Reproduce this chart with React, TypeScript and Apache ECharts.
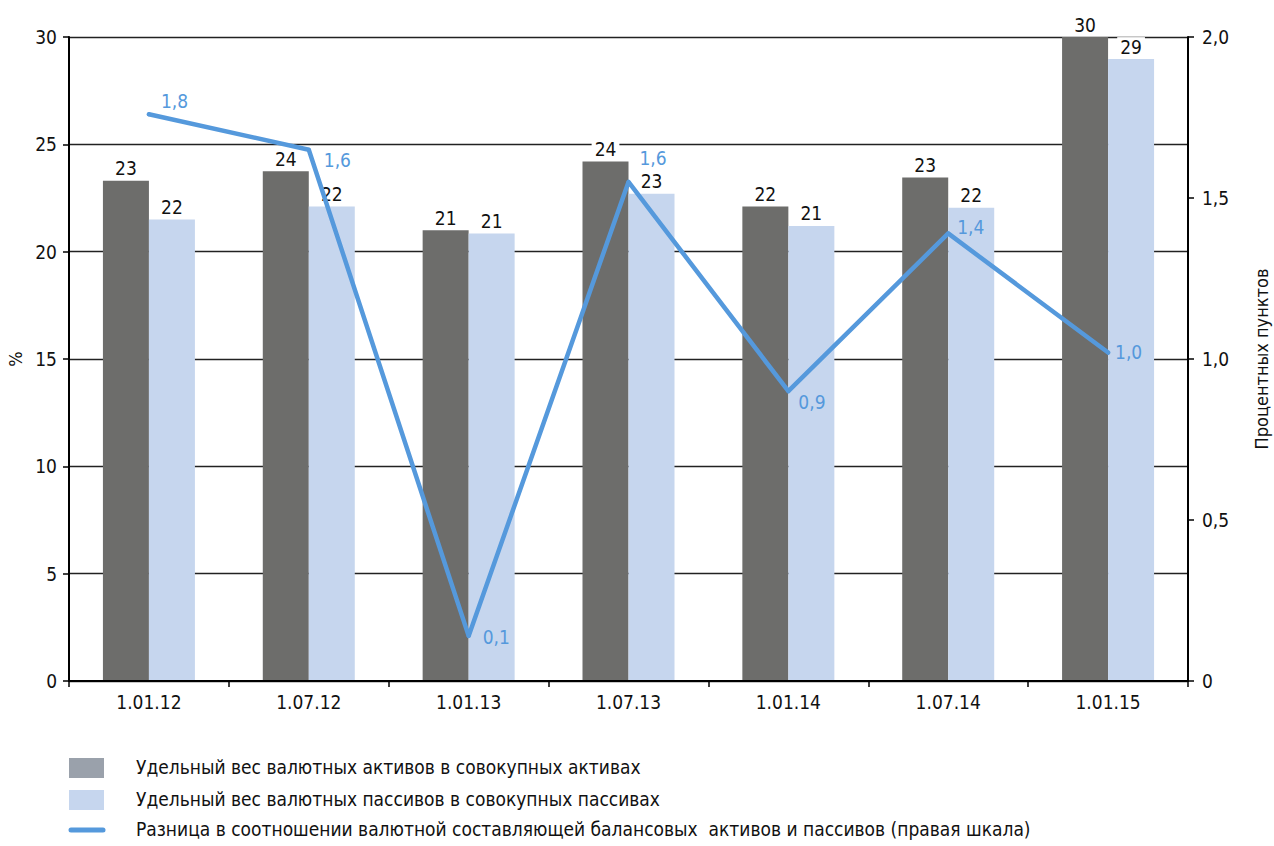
import React, { useEffect, useRef } from "react";
import * as echarts from "echarts";

// Reporting dates
const categories = ["1.01.12", "1.07.12", "1.01.13", "1.07.13", "1.01.14", "1.07.14", "1.01.15"];
// Share of foreign-currency assets in total assets, %
const assetsShare = [23.3, 23.75, 21.0, 24.2, 22.1, 23.45, 30.0];
// Share of foreign-currency liabilities in total liabilities, %
const liabilitiesShare = [21.5, 22.1, 20.85, 22.7, 21.2, 22.05, 28.97];
// Difference between the two, percentage points (right scale)
const difference = [1.76, 1.65, 0.14, 1.55, 0.9, 1.39, 1.02];

const leftTicks = { min: 0, max: 30, interval: 5 };
const rightTicks = { min: 0, max: 2, interval: 0.5 };

const seriesNames = [
  "Удельный вес валютных активов в совокупных активах",
  "Удельный вес валютных пассивов в совокупных пассивах",
  "Разница в соотношении валютной составляющей балансовых  активов и пассивов (правая шкала)",
];

// Label nudges for the difference line, one per point
const lineLabelOffsets: [number, number][] = [
  [5, -13],
  [8, 10],
  [7, 1],
  [4, -24],
  [3, 11],
  [2, -6],
  [0, -1],
];

const FONT = "'Liberation Sans Narrow', 'DejaVu Sans Condensed', 'Roboto', sans-serif";
const DARK = "#6d6d6b";
const LIGHT = "#c6d6ee";
const BLUE = "#5599dc";
const LEGEND_DARK = "#9aa1ab";

const fmtComma = (v: number, d: number) => v.toFixed(d).replace(".", ",");

export default function App() {
  const ref = useRef<HTMLDivElement>(null);

  useEffect(() => {
    if (!ref.current) return;
    const chart = echarts.init(ref.current, undefined, { renderer: "svg" });

    const barLabel = {
      show: true,
      position: "top" as const,
      distance: 3,
      color: "#111",
      fontSize: 19,
      fontFamily: FONT,
      backgroundColor: "#fff",
      padding: [0, 3],
      formatter: (p: any) => String(Math.round(p.value)),
    };

    const legendRows = [768, 800, 830];

    chart.setOption({
      animation: false,
      textStyle: { fontFamily: FONT },
      grid: {
        left: 69,
        right: 86,
        top: 37,
        bottom: 165,
        containLabel: false,
        outerBoundsMode: "none",
      },
      xAxis: {
        type: "category",
        data: categories,
        boundaryGap: true,
        axisLine: { show: true, lineStyle: { color: "#000", width: 2 } },
        axisTick: { show: true, length: 6, lineStyle: { color: "#000", width: 1.5 } },
        axisLabel: { color: "#111", fontSize: 19, fontFamily: FONT, margin: 11 },
        z: 10,
      },
      yAxis: [
        {
          type: "value",
          ...leftTicks,
          name: "%",
          nameLocation: "middle",
          nameRotate: 90,
          nameGap: 44,
          nameTextStyle: { color: "#111", fontSize: 18, fontFamily: FONT },
          axisLine: { show: true, lineStyle: { color: "#000", width: 2 } },
          axisTick: { show: true, length: 6, lineStyle: { color: "#000", width: 1.5 } },
          axisLabel: { color: "#111", fontSize: 19, fontFamily: FONT, margin: 12 },
          splitLine: { show: true, lineStyle: { color: "#222", width: 1.3 } },
        },
        {
          type: "value",
          ...rightTicks,
          position: "right",
          name: "Процентных пунктов",
          nameLocation: "middle",
          nameRotate: 90,
          nameGap: 64,
          nameTextStyle: { color: "#111", fontSize: 18, fontFamily: FONT },
          axisLine: { show: true, lineStyle: { color: "#000", width: 2 } },
          axisTick: { show: true, length: 6, lineStyle: { color: "#000", width: 1.5 } },
          axisLabel: {
            color: "#111",
            fontSize: 19,
            fontFamily: FONT,
            margin: 14,
            formatter: (v: number) => (v === 0 ? "0" : fmtComma(v, 1)),
          },
          splitLine: { show: false },
        },
      ],
      series: [
        {
          name: seriesNames[0],
          type: "bar",
          data: assetsShare,
          barWidth: 46,
          barGap: "0%",
          itemStyle: { color: DARK },
          label: barLabel,
          z: 2,
        },
        {
          name: seriesNames[1],
          type: "bar",
          data: liabilitiesShare,
          barWidth: 46,
          barGap: "0%",
          itemStyle: { color: LIGHT },
          label: barLabel,
          z: 2,
        },
        {
          name: seriesNames[2],
          type: "line",
          yAxisIndex: 1,
          data: difference.map((v, i) => ({
            value: v,
            label: { offset: lineLabelOffsets[i] },
          })),
          showSymbol: true,
          symbol: "circle",
          symbolSize: 4,
          itemStyle: { color: BLUE },
          lineStyle: { color: BLUE, width: 4.5, cap: "round", join: "round" },
          label: {
            show: true,
            position: "right",
            distance: 5,
            color: BLUE,
            fontSize: 19,
            fontFamily: FONT,
            formatter: (p: any) => fmtComma(p.value, 1),
          },
          z: 5,
        },
      ],
      graphic: [
        {
          type: "rect",
          left: 69,
          top: legendRows[0] - 10,
          shape: { width: 35, height: 20 },
          style: { fill: LEGEND_DARK },
        },
        {
          type: "rect",
          left: 69,
          top: legendRows[1] - 10,
          shape: { width: 35, height: 20 },
          style: { fill: LIGHT },
        },
        {
          type: "line",
          shape: { x1: 71, y1: legendRows[2], x2: 103, y2: legendRows[2] },
          style: { stroke: BLUE, lineWidth: 5, lineCap: "round" },
        },
        ...seriesNames.map((name, i) => ({
          type: "text",
          left: 136,
          top: legendRows[i] - 11,
          style: {
            text: name,
            fill: "#111",
            fontSize: 19,
            fontFamily: FONT,
          },
        })),
      ],
    });

    return () => chart.dispose();
  }, []);

  return (
    <div
      ref={ref}
      style={{ position: "fixed", left: 0, top: 0, width: 1274, height: 846, background: "#fff" }}
    />
  );
}
